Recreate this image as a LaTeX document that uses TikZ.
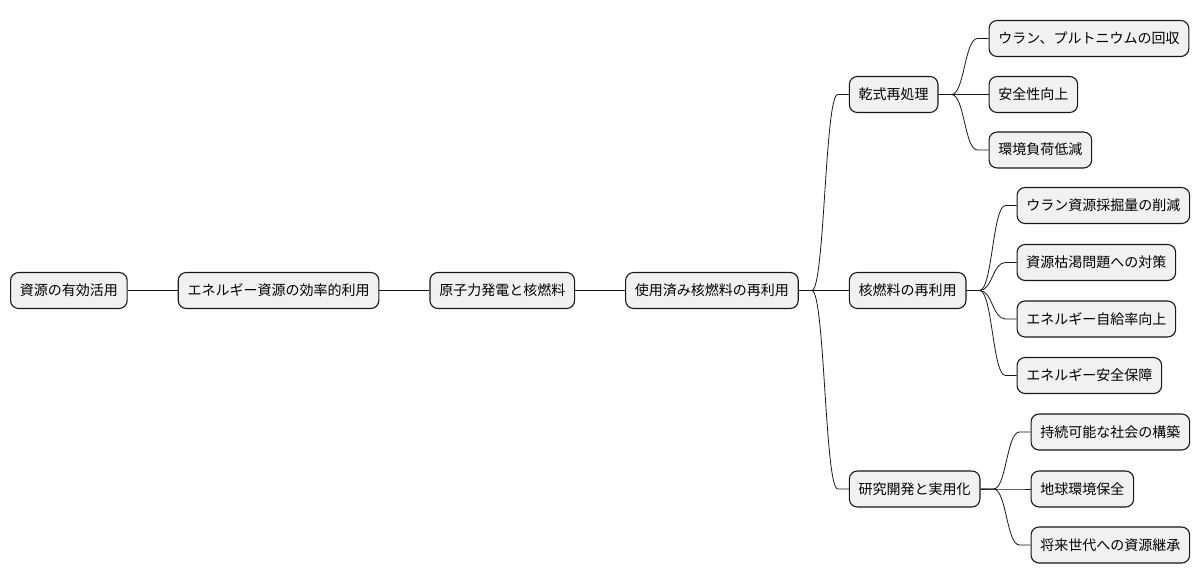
\documentclass[tikz,border=0pt]{standalone}
\usepackage{fontspec}
\setmainfont{Noto Sans CJK JP}
\usetikzlibrary{positioning}
\definecolor{boxfill}{HTML}{F1F1F1}
\definecolor{boxline}{HTML}{181818}
\tikzset{
  topic/.style={draw=boxline, fill=boxfill, line width=1.1pt, rounded corners=8pt,
    minimum height=36pt, inner xsep=9.3pt, inner ysep=0pt,
    text height=11.5pt, text depth=1.5pt,
    font=\fontsize{14pt}{16pt}\selectfont},
  branch/.style={draw=boxline, line width=0.8pt,
    to path={-- ++(13pt,0) .. controls ([xshift=26pt]\tikztostart) and ([xshift=-24pt]\tikztotarget)
      .. ([xshift=-11pt]\tikztotarget) -- (\tikztotarget)}}
}
\begin{document}
\begin{tikzpicture}[x=1pt, y=-1pt, node distance=50pt]
    \useasboundingbox (0,0) rectangle (1202,583);
    % catena principale
    \node[topic, anchor=west] (root) at (10,290.5) {資源の有効活用};
    \node[topic, right=of root] (effic) {エネルギー資源の効率的利用};
    \node[topic, right=of effic] (nuke) {原子力発電と核燃料};
    \node[topic, right=of nuke] (spent) {使用済み核燃料の再利用};
    \draw[boxline, line width=0.8pt] (root) -- (effic) (effic) -- (nuke) (nuke) -- (spent);
    % secondo livello
    \node[topic, right=of spent, yshift=196pt] (dry) {乾式再処理};
    \node[topic, right=of spent] (reuse) {核燃料の再利用};
    \node[topic, right=of spent, yshift=-198.5pt] (rnd) {研究開発と実用化};
    \foreach \p in {dry,reuse,rnd}
      \draw[branch] (spent.east) to (\p.west);
    % foglie
    \foreach \nm/\dy/\txt in {pu/56/ウラン、プルトニウムの回収, safe/0/安全性向上, env/-55.5/環境負荷低減} {
      \node[topic, right=of dry, yshift=\dy pt] (\nm) {\txt};
      \draw[branch] (dry.east) to (\nm.west);
    }
    \foreach \nm/\dy/\txt in {mine/85/ウラン資源採掘量の削減, deplete/28/資源枯渇問題への対策,
        selfs/-28.5/エネルギー自給率向上, secur/-85/エネルギー安全保障} {
      \node[topic, right=of reuse, yshift=\dy pt] (\nm) {\txt};
      \draw[branch] (reuse.east) to (\nm.west);
    }
    \foreach \nm/\dy/\txt in {sust/57/持続可能な社会の構築, earth/0/地球環境保全, future/-56/将来世代への資源継承} {
      \node[topic, right=of rnd, yshift=\dy pt] (\nm) {\txt};
      \draw[branch] (rnd.east) to (\nm.west);
    }
\end{tikzpicture}
\end{document}
